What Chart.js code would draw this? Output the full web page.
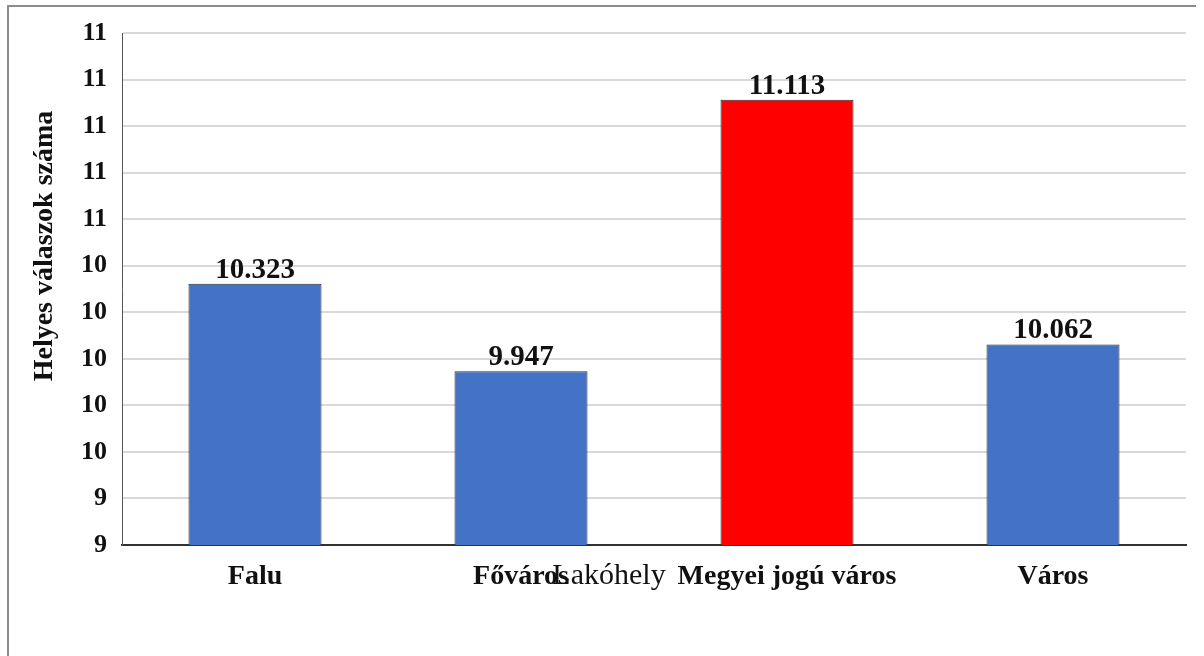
<!DOCTYPE html>
<html lang="hu">
<head>
<meta charset="utf-8">
<script src="https://cdn.jsdelivr.net/npm/chart.js@4/dist/chart.umd.min.js"></script>
<style>
  body { margin: 0; background: #fff; }
  #wrap { width: 1204px; height: 656px; position: relative; }
</style>
</head>
<body>
<div id="wrap"><canvas id="lakohely"></canvas></div>
<script>
// adatok
const kategoriak = ['Falu', 'Főváros', 'Megyei jogú város', 'Város'];
const helyesValaszok = [10.323, 9.947, 11.113, 10.062];
const oszlopSzinek = ['#4472c4', '#4472c4', '#ff0000', '#4472c4'];
const yMin = 9.2, yMax = 11.4, yLepes = 0.2;
const xCim = 'Lakóhely';
const yCim = 'Helyes válaszok száma';

const betu = '"Liberation Serif", "Times New Roman", serif';

// keret + tengelycímek + értékcímkék
const rajzolo = {
  id: 'rajzolo',
  afterDraw(chart) {
    const c = chart.ctx;
    c.save();
    // keret
    c.strokeStyle = '#8c8c8c';
    c.lineWidth = 2;
    c.beginPath();
    c.moveTo(8, 656);
    c.lineTo(8, 6);
    c.lineTo(1196, 6);
    c.stroke();

    // értékek az oszlopok fölött
    c.fillStyle = '#111';
    c.font = 'bold 29px ' + betu;
    c.textAlign = 'center';
    c.textBaseline = 'alphabetic';
    chart.getDatasetMeta(0).data.forEach((bar, i) => {
      c.fillText(helyesValaszok[i].toFixed(3), bar.x, bar.y - 6);
    });

    // x tengely címe
    c.font = '30px ' + betu;
    c.fillText(xCim, 609, 584);

    // y tengely címe
    c.translate(45, 246);
    c.rotate(-Math.PI / 2);
    c.textBaseline = 'middle';
    c.font = 'bold 28px ' + betu;
    c.fillText(yCim, 0, 0);
    c.restore();
  }
};

new Chart(document.getElementById('lakohely'), {
  type: 'bar',
  data: {
    labels: kategoriak,
    datasets: [{
      data: helyesValaszok,
      backgroundColor: oszlopSzinek,
      borderColor: '#262b33',
      borderWidth: 1,
      barPercentage: 0.5,
      categoryPercentage: 1
    }]
  },
  options: {
    responsive: true,
    maintainAspectRatio: false,
    animation: false,
    layout: { padding: { top: 33, right: 18, left: 0, bottom: 0 } },
    plugins: { legend: { display: false }, tooltip: { enabled: false } },
    scales: {
      x: {
        afterFit: s => { s.height = 111; },
        grid: { display: false, drawTicks: false },
        border: { color: '#333', width: 2 },
        ticks: { color: '#111', padding: 15, font: { family: betu, size: 28, weight: 'bold' } }
      },
      y: {
        min: yMin,
        max: yMax,
        afterFit: s => { s.width = 122; },
        grid: { color: '#d9d9d9', lineWidth: 2, drawTicks: false },
        border: { color: '#555', width: 1 },
        ticks: {
          stepSize: yLepes,
          color: '#111',
          padding: 15,
          font: { family: betu, size: 26, weight: 'bold' },
          callback: v => Math.round(v)
        }
      }
    }
  },
  plugins: [rajzolo]
});
</script>
</body>
</html>
